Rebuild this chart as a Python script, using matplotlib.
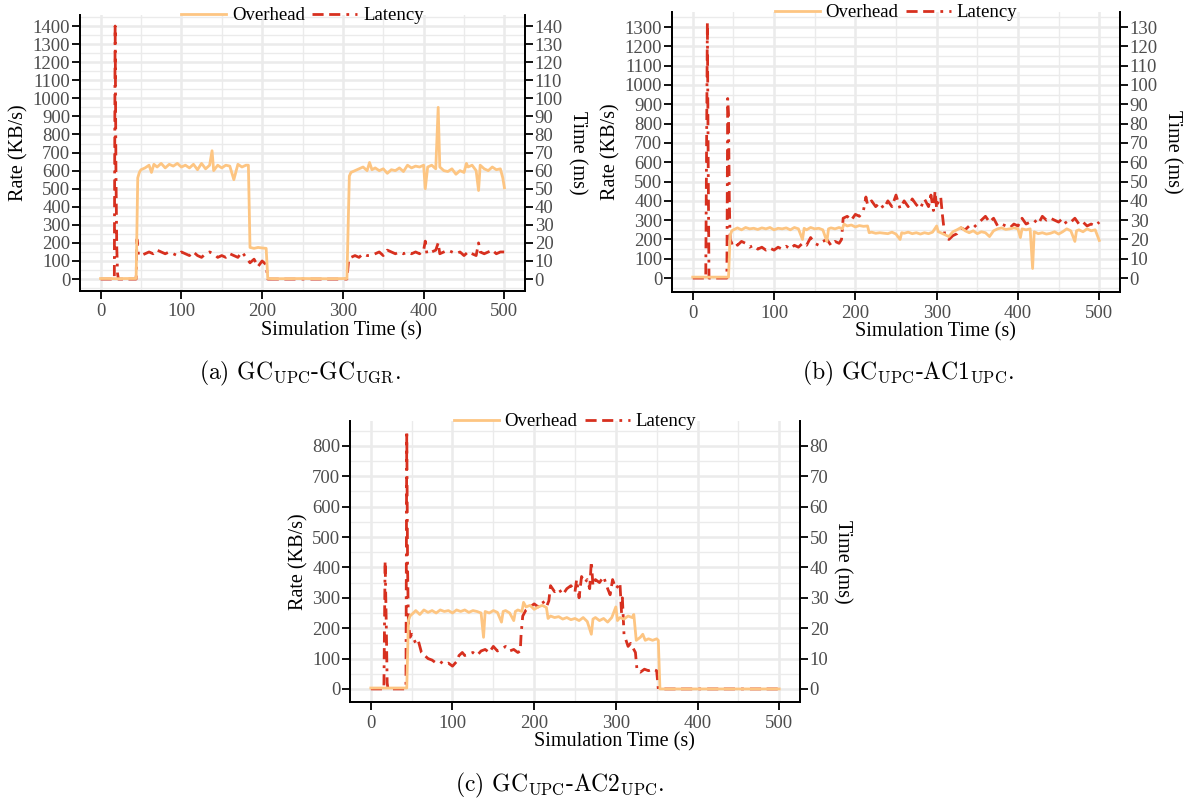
"""Overhead vs. latency over simulation time for three GC/AC pairings."""
import matplotlib

matplotlib.use("Agg")
import matplotlib.pyplot as plt  # noqa: E402
from matplotlib.ticker import MultipleLocator  # noqa: E402

plt.rcParams["font.family"] = ["Liberation Serif", "DejaVu Serif"]
plt.rcParams["mathtext.fontset"] = "cm"

# ---- (a) GC_UPC - GC_UGR ----
a_ovh_t = [0, 10, 20, 30, 44, 46, 48, 50, 55, 60, 63, 66, 70, 75, 80, 85, 90, 95, 100,
           105, 110, 115, 120, 125, 130, 135, 138, 140, 145, 150, 155, 160, 165, 170,
           175, 180, 183, 185, 190, 195, 200, 205, 207, 220, 250, 280, 305, 308, 310,
           315, 320, 325, 330, 333, 336, 340, 345, 350, 355, 360, 365, 370, 375, 380,
           385, 390, 395, 400, 402, 405, 410, 415, 418, 420, 425, 430, 435, 440, 445,
           450, 453, 455, 460, 465, 468, 470, 475, 480, 485, 490, 495, 498, 500]
a_ovh = [3, 3, 2, 3, 3, 560, 590, 605, 615, 630, 590, 635, 620, 640, 615, 635, 625, 640, 620,
         630, 615, 635, 605, 640, 610, 630, 710, 600, 630, 615, 630, 625, 550, 635,
         620, 630, 630, 175, 170, 175, 172, 170, 3, 2, 3, 2, 3, 570, 590,
         600, 610, 620, 600, 645, 605, 615, 600, 610, 585, 605, 600, 615, 595, 630,
         615, 625, 620, 630, 500, 620, 630, 610, 950, 620, 600, 595, 610, 580, 600,
         590, 640, 620, 630, 600, 490, 630, 610, 600, 620, 605, 610, 560, 505]
a_lat_t = [0, 17, 18, 19, 20, 21, 22, 44, 45, 47, 50, 55, 60, 65, 70, 75, 80, 85, 90, 95,
           100, 105, 110, 115, 120, 125, 130, 135, 140, 145, 150, 155, 160, 165, 170, 175,
           180, 185, 190, 195, 200, 205, 207, 305, 307, 310, 315, 320, 325, 330, 335, 340,
           345, 350, 355, 360, 365, 370, 375, 380, 385, 390, 395, 400, 402, 404, 410, 415,
           418, 420, 425, 430, 435, 440, 445, 450, 455, 460, 465, 468, 470, 475, 480, 485,
           490, 495, 500]
a_lat = [0, 0, 140, 60, 18, 3, 0, 0, 22, 13, 13, 14, 15, 14, 16, 15, 14, 15, 14, 13,
         15, 14, 13, 15, 13, 12, 14, 15, 14, 12, 13, 12, 14, 13, 12, 15,
         12, 9, 11, 7, 10, 8, 0, 0, 10, 12, 13, 12, 14, 13, 13, 14,
         15, 13, 16, 15, 14, 15, 14, 15, 14, 15, 14, 16, 21, 14, 15, 16,
         20, 14, 15, 16, 15, 14, 15, 13, 15, 14, 13, 20, 15, 14, 15, 16,
         14, 15, 15]

# ---- (b) GC_UPC - AC1_UPC ----
b_ovh_t = [0, 20, 44, 46, 48, 50, 55, 60, 65, 70, 75, 80, 85, 90, 95, 100, 105, 110, 115,
           120, 125, 130, 135, 137, 140, 145, 150, 155, 160, 165, 167, 170, 175, 180, 184,
           186, 190, 195, 200, 205, 210, 215, 217, 220, 225, 230, 240, 245, 250, 255, 257,
           260, 265, 270, 275, 280, 285, 290, 295, 300, 302, 305, 310, 315, 320, 325, 330,
           335, 340, 345, 350, 355, 360, 365, 370, 375, 380, 385, 390, 395, 400, 403, 405,
           410, 415, 418, 420, 425, 430, 435, 440, 445, 450, 455, 460, 465, 470, 472, 475,
           480, 485, 490, 495, 500]
b_ovh = [5, 5, 5, 220, 245, 250, 260, 250, 262, 255, 258, 252, 260, 255, 262, 250, 258, 255, 260,
         250, 262, 255, 200, 258, 250, 262, 255, 258, 250, 190, 255, 260, 255, 262, 255,
         280, 270, 275, 265, 272, 268, 270, 235, 238, 232, 235, 230, 238, 228, 200, 235,
         232, 238, 230, 235, 228, 235, 230, 238, 270, 240, 235, 225, 215, 240, 250, 262,
         245, 235, 245, 230, 240, 235, 215, 245, 255, 260, 252, 255, 260, 255, 210, 255,
         250, 255, 50, 240, 230, 235, 228, 232, 240, 228, 240, 255, 245, 190, 245, 250,
         240, 255, 245, 250, 195]
b_lat_t = [0, 16, 18, 19, 20, 42, 43, 44, 45, 46, 48, 52, 55, 60, 65, 70, 75, 80, 85, 90,
           95, 100, 105, 110, 115, 120, 125, 130, 135, 140, 145, 150, 155, 160, 165, 170,
           175, 180, 183, 185, 190, 195, 200, 205, 210, 213, 215, 220, 225, 230, 235, 240,
           245, 250, 255, 260, 265, 270, 275, 280, 285, 290, 293, 296, 298, 300, 302, 305,
           307, 310, 315, 320, 325, 330, 335, 340, 345, 350, 355, 360, 365, 370, 375, 380,
           385, 390, 395, 400, 405, 410, 415, 420, 425, 430, 435, 440, 445, 450, 455, 460,
           465, 470, 475, 480, 485, 490, 495, 500]
b_lat = [0, 0, 132, 60, 0, 0, 93, 85, 40, 20, 18, 19, 17, 19, 18, 16, 17, 15, 16, 14.5,
         15.5, 14.5, 16, 15, 16.5, 15, 17, 16, 18, 17, 21, 18, 17, 19, 20, 17,
         19, 18, 20, 31, 32, 30, 33, 32, 35, 42, 38, 40, 37, 39, 36, 40,
         37, 43, 36, 40, 37, 41, 38, 36, 41, 37, 43, 35, 45, 36, 40, 42,
         33, 22, 20, 22, 23, 26, 25, 27, 26, 28, 30, 32, 29, 31, 27, 28,
         27, 26, 28, 27, 31, 28, 29, 30, 28, 32, 30, 31, 30, 29, 31, 28,
         29, 31, 28, 29, 27, 28, 27, 29]

# ---- (c) GC_UPC - AC2_UPC ----
c_ovh_t = [0, 20, 44, 46, 48, 52, 55, 60, 65, 70, 75, 80, 85, 90, 95, 100, 105, 110, 115,
           120, 125, 130, 135, 138, 140, 145, 150, 155, 160, 162, 165, 170, 175, 177, 180,
           185, 187, 190, 195, 200, 205, 210, 215, 217, 220, 225, 230, 235, 240, 245, 250,
           255, 260, 265, 270, 272, 275, 280, 285, 290, 295, 300, 302, 305, 310, 315, 320,
           322, 325, 330, 333, 336, 340, 345, 350, 352, 354, 400, 450, 500]
c_ovh = [3, 3, 3, 225, 240, 250, 258, 245, 260, 252, 258, 250, 260, 255, 258, 250, 260, 255, 260,
         252, 258, 255, 250, 170, 255, 250, 258, 252, 220, 255, 258, 250, 225, 255, 260,
         255, 285, 270, 275, 262, 270, 275, 268, 232, 240, 235, 238, 230, 235, 228, 232,
         225, 235, 222, 180, 230, 235, 225, 232, 220, 235, 270, 225, 235, 230, 240, 235,
         245, 160, 170, 180, 160, 165, 160, 165, 160, 0, 0, 0, 0]
c_lat_t = [0, 16, 17.5, 19, 20, 21, 43, 44, 45, 46, 48, 50, 55, 58, 62, 66, 70, 75, 80, 85,
           90, 95, 100, 105, 108, 112, 115, 120, 125, 130, 135, 140, 145, 150, 155, 160,
           165, 170, 175, 180, 183, 184, 186, 190, 195, 200, 205, 210, 215, 218, 220, 225,
           230, 235, 240, 245, 250, 252, 255, 258, 262, 265, 268, 270, 272, 275, 280, 285,
           290, 293, 296, 300, 303, 305, 307, 308, 310, 315, 318, 322, 324, 326, 330, 335,
           340, 345, 350, 352, 400, 450, 500]
c_lat = [0, 0, 42, 20, 2, 0, 0, 85, 40, 22, 17, 18, 15, 16, 12, 11, 10, 9.5, 8.5, 9,
         8, 8.5, 7.5, 9, 11, 12, 11, 11.5, 12, 11, 12.5, 13, 12, 14, 12.5, 13,
         14, 12.5, 13, 12, 12.5, 18, 24, 26, 27, 28, 27, 29, 27, 29, 34, 32,
         33, 31, 33, 34, 32, 36, 30, 37, 35, 36, 33, 42, 34, 36, 35, 37,
         33, 31, 36, 33, 34, 35, 25, 30, 18, 14, 15, 13, 12, 6, 5.5, 6.5,
         6, 6.5, 6, 0, 0, 0, 0]

captions = [
    r"(a) GC$_{\mathrm{UPC}}$-GC$_{\mathrm{UGR}}$.",
    r"(b) GC$_{\mathrm{UPC}}$-AC1$_{\mathrm{UPC}}$.",
    r"(c) GC$_{\mathrm{UPC}}$-AC2$_{\mathrm{UPC}}$.",
]

OVH_COLOR = "#fdc582"
LAT_COLOR = "#d7301f"
GRID = "#ebebeb"
LAT_DASH = (0, (4, 2, 4, 2.2, 1, 2.2))  # long dash, long dash, dot
W, H = 1192, 801
XLIM = (-25.5, 525.5)


def px_rect(left, top, right, bottom):
    """Axes rectangle from pixel edges of the spine box."""
    return [left / W, 1 - bottom / H, (right - left) / W, (bottom - top) / H]


def panel(fig, rect, ovh_t, ovh, lat_t, lat, ylim, ymax_tick):
    ax2 = fig.add_axes(rect)  # right axis (latency), drawn underneath
    ax = ax2.twinx()
    ax.yaxis.tick_left()
    ax.yaxis.set_label_position("left")
    ax2.yaxis.tick_right()
    ax2.yaxis.set_label_position("right")

    ax2.plot(lat_t, lat, color=LAT_COLOR, lw=2, linestyle=LAT_DASH)
    ax.plot(ovh_t, ovh, color=OVH_COLOR, lw=2)

    ax.set_xlim(*XLIM)
    ax.set_ylim(*ylim)
    ax2.set_ylim(ylim[0] / 10, ylim[1] / 10)
    ax.set_yticks(range(0, ymax_tick + 1, 100))
    ax2.set_yticks(range(0, ymax_tick // 10 + 1, 10))
    ax2.set_xticks(range(0, 501, 100))
    ax2.xaxis.set_minor_locator(MultipleLocator(50))
    ax2.yaxis.set_minor_locator(MultipleLocator(5))

    ax2.grid(which="major", color=GRID, lw=1.8)
    ax2.grid(which="minor", color=GRID, lw=1.0)
    ax2.set_axisbelow(True)
    ax.patch.set_visible(False)

    for a in (ax, ax2):
        a.spines["top"].set_visible(False)
        for s in ("left", "right", "bottom"):
            a.spines[s].set_linewidth(1.3)
        a.tick_params(which="major", length=6, width=1.3, labelsize=13.5,
                      labelcolor="#4d4d4d", pad=1)
        a.tick_params(which="minor", length=0)
    ax.tick_params(axis="x", bottom=False, labelbottom=False)
    ax2.tick_params(axis="x", pad=3)

    ax2.set_xlabel("Simulation Time (s)", fontsize=14.5)
    # the reference centres this label near t = 300 s, not mid-axis
    ax2.xaxis.set_label_coords((298 - XLIM[0]) / (XLIM[1] - XLIM[0]), -0.108)
    ax.set_ylabel("Rate (KB/s)", fontsize=14.5, labelpad=3)
    ax2.set_ylabel("Time (ms)", fontsize=14.5, rotation=270, labelpad=17)

    h1 = plt.Line2D([], [], color=OVH_COLOR, lw=2)
    h2 = plt.Line2D([], [], color=LAT_COLOR, lw=2, linestyle=LAT_DASH)
    ax.legend([h1, h2], ["Overhead", "Latency"], loc="center",
              bbox_to_anchor=(0.5, 0.998), ncol=2, frameon=False, fontsize=13.5,
              handlelength=2.4, handletextpad=0.3, columnspacing=0.4,
              borderpad=0, borderaxespad=0)
    return ax


fig = plt.figure(figsize=(W / 100, H / 100), dpi=100)
panel(fig, px_rect(80, 15, 525, 291), a_ovh_t, a_ovh, a_lat_t, a_lat,
      (-66, 1461), 1400)
panel(fig, px_rect(672, 12, 1120, 292), b_ovh_t, b_ovh, b_lat_t, b_lat,
      (-72, 1378), 1300)
panel(fig, px_rect(350, 421, 800, 702), c_ovh_t, c_ovh, c_lat_t, c_lat,
      (-43, 882), 800)

cap_kw = dict(ha="center", va="center", fontsize=17, family="cmr10")
fig.text(300 / W, 1 - 373 / H, captions[0], **cap_kw)
fig.text(908 / W, 1 - 373 / H, captions[1], **cap_kw)
fig.text(560 / W, 1 - 785 / H, captions[2], **cap_kw)

fig.savefig("out.png", dpi=100)
plt.close(fig)
